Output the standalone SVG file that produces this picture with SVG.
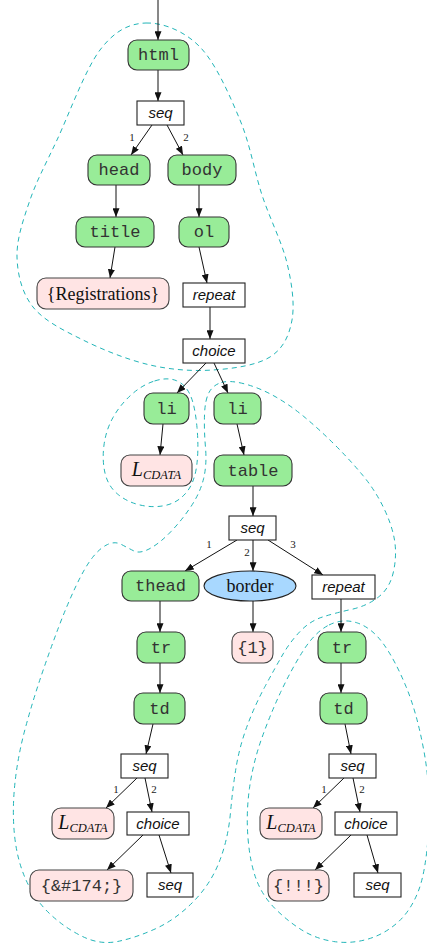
<svg xmlns="http://www.w3.org/2000/svg" width="427" height="944" viewBox="0 0 427 944">
  <style>
    .el rect { fill: #98ec98; stroke: #333; stroke-width: 1.1; }
    .val rect { fill: #ffe4e4; stroke: #444; stroke-width: 1.1; }
    .op rect { fill: #fff; stroke: #222; stroke-width: 1.1; }
    .attr ellipse { fill: #a8d8ff; stroke: #222; stroke-width: 1.1; }
    .mono { font-family: "Liberation Mono", "DejaVu Sans Mono", monospace; font-size: 17px; fill: #333; text-anchor: middle; }
    .serif { font-family: "Liberation Serif", "DejaVu Serif", serif; font-size: 18px; fill: #111; text-anchor: middle; }
    .it { font-family: "Liberation Sans", Arial, sans-serif; font-style: italic; font-size: 15px; fill: #111; text-anchor: middle; }
    .lc { font-family: "Liberation Serif", "DejaVu Serif", serif; font-style: italic; fill: #111; text-anchor: middle; }
    .num { font-family: "Liberation Serif", serif; font-size: 11px; fill: #222; text-anchor: middle; }
    .edges line { stroke: #111; stroke-width: 1; marker-end: url(#arr); }
    .regions path { fill: none; stroke: #22b5b8; stroke-width: 1; stroke-dasharray: 5 4; }
  </style>
  <defs>
    <marker id="arr" viewBox="0 0 10 8" refX="10" refY="4" markerWidth="9" markerHeight="7" markerUnits="userSpaceOnUse" orient="auto">
      <path d="M0,0 L10,4 L0,8 z" fill="#111"/>
    </marker>
  </defs>

  <!-- dashed region outlines -->
  <g class="regions">
    <path id="region-page" d="M146,23 C162.7,22.5 184.3,30.8 200,47 C215.7,63.2 229.7,95.3 240,120 C250.3,144.7 254.2,171.2 262,195 C269.8,218.8 282,242.2 287,263 C292,283.8 294.8,304.3 292,320 C289.2,335.7 283.2,348.7 270,357 C256.8,365.3 233,368.7 213,370 C193,371.3 171.7,370 150,365 C128.3,360 102.5,349.7 83,340 C63.5,330.3 44,320.8 33,307 C22,293.2 17.5,274.8 17,257 C16.5,239.2 23.3,219.5 30,200 C36.7,180.5 45.3,165 57,140 C68.7,115 85.2,69.5 100,50 C114.8,30.5 129.3,23.5 146,23 Z"/>
    <path id="region-item" d="M154.5,381 Q167,377 176,380.5 Q185,384 190,394.5 Q195,405 197,427.5 Q199,450 196.5,467 Q194,484 185.5,493.5 Q177,503 165,505.5 Q153,508 140,505 Q127,502 117.5,494 Q108,486 105,473 Q102,460 104,445 Q106,430 113,417.5 Q120,405 131,395 Q142,385 154.5,381 Z"/>
    <path id="region-table" d="M221.5,382.5 Q230,380 245,384 Q260,388 275,396.5 Q290,405 305,417.5 Q320,430 335,445 Q350,460 362.5,475 Q375,490 383.5,507.5 Q392,525 394.5,540 Q397,555 393.5,571.5 Q390,588 378.5,597 Q367,606 351,609.5 Q335,613 322.5,617 Q310,621 300,631.5 Q290,642 282.5,655 Q275,668 265,686.5 Q255,705 247.5,725 Q240,745 236.5,765 Q233,785 230.5,812.5 Q228,840 219,862.5 Q210,885 192.5,902.5 Q175,920 155,929 Q135,938 117.5,941.5 Q100,945 82.5,936.5 Q65,928 50,914 Q35,900 26,880 Q17,860 14.5,835 Q12,810 15,782.5 Q18,755 25.5,727.5 Q33,700 41.5,675 Q50,650 58.5,627.5 Q67,605 76,586 Q85,567 92.5,557.5 Q100,548 107.5,544.5 Q115,541 121.5,544.5 Q128,548 134,551 Q140,554 150,548.5 Q160,543 171,531.5 Q182,520 191,506.5 Q200,493 203.5,479 Q207,465 205.5,447.5 Q204,430 204.5,415 Q205,400 209,392.5 Q213,385 221.5,382.5 Z"/>
    <path id="region-rows" d="M329,625 Q343,618 357.5,623 Q372,628 383.5,644 Q395,660 406,686.5 Q417,713 424,751.5 Q431,790 428.5,831 Q426,872 418,892 Q410,912 396.5,923.5 Q383,935 366.5,939.5 Q350,944 333.5,941.5 Q317,939 303.5,931 Q290,923 276.5,910 Q263,897 256.5,880 Q250,863 248,838 Q246,813 249.5,788 Q253,763 261.5,739 Q270,715 280.5,692.5 Q291,670 303,651 Q315,632 329,625 Z"/>
  </g>

  <!-- connectors -->
  <g class="edges">
    <line x1="158" y1="0" x2="158" y2="40"/>
    <line x1="158" y1="70" x2="158" y2="101"/>
    <line x1="152" y1="125" x2="131" y2="155"/>
    <line x1="167" y1="125" x2="183" y2="155"/>
    <line x1="116" y1="185" x2="116" y2="217"/>
    <line x1="199" y1="185" x2="199" y2="217"/>
    <line x1="115" y1="247" x2="110" y2="278"/>
    <line x1="199" y1="247" x2="207" y2="283"/>
    <line x1="210" y1="307" x2="210" y2="339"/>
    <line x1="206" y1="363" x2="177" y2="393"/>
    <line x1="214" y1="363" x2="228" y2="393"/>
    <line x1="163" y1="424" x2="160" y2="455"/>
    <line x1="237" y1="424" x2="244" y2="455"/>
    <line x1="253" y1="486" x2="253" y2="516"/>
    <line x1="237" y1="540" x2="185" y2="571"/>
    <line x1="253" y1="540" x2="253" y2="571"/>
    <line x1="268" y1="540" x2="323" y2="575"/>
    <line x1="160" y1="601" x2="160" y2="632"/>
    <line x1="253" y1="601" x2="253" y2="632"/>
    <line x1="341" y1="599" x2="341" y2="632"/>
    <line x1="160" y1="663" x2="160" y2="693"/>
    <line x1="341" y1="663" x2="341" y2="693"/>
    <line x1="153" y1="724" x2="146" y2="754"/>
    <line x1="345" y1="724" x2="351" y2="754"/>
    <line x1="137" y1="778" x2="106" y2="808"/>
    <line x1="145" y1="778" x2="152" y2="812"/>
    <line x1="344" y1="778" x2="313" y2="808"/>
    <line x1="353" y1="778" x2="360" y2="812"/>
    <line x1="143" y1="835" x2="107" y2="870"/>
    <line x1="159" y1="835" x2="171" y2="873"/>
    <line x1="351" y1="835" x2="315" y2="870"/>
    <line x1="367" y1="835" x2="378" y2="873"/>
    <text class="num" x="132" y="141">1</text>
    <text class="num" x="186" y="141">2</text>
    <text class="num" x="209" y="548">1</text>
    <text class="num" x="247" y="556">2</text>
    <text class="num" x="293" y="548">3</text>
    <text class="num" x="116" y="793">1</text>
    <text class="num" x="154" y="793">2</text>
    <text class="num" x="324" y="793">1</text>
    <text class="num" x="362" y="793">2</text>
  </g>

  <!-- nodes -->
  <g id="n-html" class="el"><rect x="128" y="40" width="61" height="30" rx="9"/><text class="mono" x="158.5" y="60">html</text></g>
  <g id="n-seq1" class="op"><rect x="137" y="101" width="47" height="24"/><text class="it" x="160.5" y="118">seq</text></g>
  <g id="n-head" class="el"><rect x="88" y="155" width="62" height="30" rx="9"/><text class="mono" x="119" y="175">head</text></g>
  <g id="n-body" class="el"><rect x="168" y="155" width="68" height="30" rx="9"/><text class="mono" x="202" y="175">body</text></g>
  <g id="n-title" class="el"><rect x="76" y="217" width="78" height="30" rx="9"/><text class="mono" x="115" y="237">title</text></g>
  <g id="n-ol" class="el"><rect x="179" y="217" width="50" height="30" rx="9"/><text class="mono" x="204" y="237">ol</text></g>
  <g id="n-registrations" class="val"><rect x="37" y="278" width="132" height="31" rx="9"/><text class="serif" x="103" y="299.5">{Registrations}</text></g>
  <g id="n-repeat1" class="op"><rect x="183" y="283" width="62" height="24"/><text class="it" x="214" y="300">repeat</text></g>
  <g id="n-choice1" class="op"><rect x="183" y="339" width="62" height="24"/><text class="it" x="214" y="356">choice</text></g>
  <g id="n-li1" class="el"><rect x="144" y="393" width="45" height="31" rx="9"/><text class="mono" x="166.5" y="413.5">li</text></g>
  <g id="n-li2" class="el"><rect x="214" y="393" width="47" height="31" rx="9"/><text class="mono" x="237.5" y="413.5">li</text></g>
  <g id="n-cdata1" class="val"><rect x="121" y="455" width="71" height="31" rx="9"/><text class="lc" x="156.5" y="476"><tspan font-size="20">L</tspan><tspan font-size="12.5" dy="3">CDATA</tspan></text></g>
  <g id="n-table" class="el"><rect x="214" y="455" width="78" height="31" rx="9"/><text class="mono" x="253" y="475.5">table</text></g>
  <g id="n-seq2" class="op"><rect x="229" y="516" width="47" height="24"/><text class="it" x="252.5" y="533">seq</text></g>
  <g id="n-thead" class="el"><rect x="122" y="571" width="77" height="30" rx="9"/><text class="mono" x="160.5" y="591">thead</text></g>
  <g id="n-border" class="attr"><ellipse cx="250" cy="586" rx="46" ry="15"/><text class="serif" x="250" y="592">border</text></g>
  <g id="n-repeat2" class="op"><rect x="312" y="575" width="63" height="24"/><text class="it" x="343.5" y="592">repeat</text></g>
  <g id="n-tr1" class="el"><rect x="137" y="632" width="48" height="31" rx="9"/><text class="mono" x="161" y="652.5">tr</text></g>
  <g id="n-one" class="val"><rect x="232" y="632" width="41" height="31" rx="9"/><text class="mono" x="252.5" y="653">{1}</text></g>
  <g id="n-tr2" class="el"><rect x="318" y="632" width="48" height="31" rx="9"/><text class="mono" x="342" y="652.5">tr</text></g>
  <g id="n-td1" class="el"><rect x="134" y="693" width="51" height="31" rx="9"/><text class="mono" x="159.5" y="713.5">td</text></g>
  <g id="n-td2" class="el"><rect x="320" y="693" width="47" height="31" rx="9"/><text class="mono" x="343.5" y="713.5">td</text></g>
  <g id="n-seq3" class="op"><rect x="121" y="754" width="47" height="24"/><text class="it" x="144.5" y="771">seq</text></g>
  <g id="n-seq4" class="op"><rect x="329" y="754" width="47" height="24"/><text class="it" x="352.5" y="771">seq</text></g>
  <g id="n-cdata2" class="val"><rect x="52" y="808" width="62" height="31" rx="9"/><text class="lc" x="83" y="829"><tspan font-size="20">L</tspan><tspan font-size="12.5" dy="3">CDATA</tspan></text></g>
  <g id="n-choice2" class="op"><rect x="127" y="812" width="62" height="23"/><text class="it" x="158" y="829">choice</text></g>
  <g id="n-cdata3" class="val"><rect x="260" y="808" width="62" height="31" rx="9"/><text class="lc" x="291" y="829"><tspan font-size="20">L</tspan><tspan font-size="12.5" dy="3">CDATA</tspan></text></g>
  <g id="n-choice3" class="op"><rect x="335" y="812" width="62" height="23"/><text class="it" x="366" y="829">choice</text></g>
  <g id="n-reg" class="val"><rect x="30" y="870" width="103" height="31" rx="9"/><text class="mono" x="81.5" y="891">{&amp;#174;}</text></g>
  <g id="n-seq5" class="op"><rect x="147" y="873" width="46" height="24"/><text class="it" x="170" y="890">seq</text></g>
  <g id="n-bang" class="val"><rect x="268" y="870" width="61" height="31" rx="9"/><text class="mono" x="298.5" y="891">{!!!}</text></g>
  <g id="n-seq6" class="op"><rect x="354" y="873" width="47" height="24"/><text class="it" x="377.5" y="890">seq</text></g>
</svg>
